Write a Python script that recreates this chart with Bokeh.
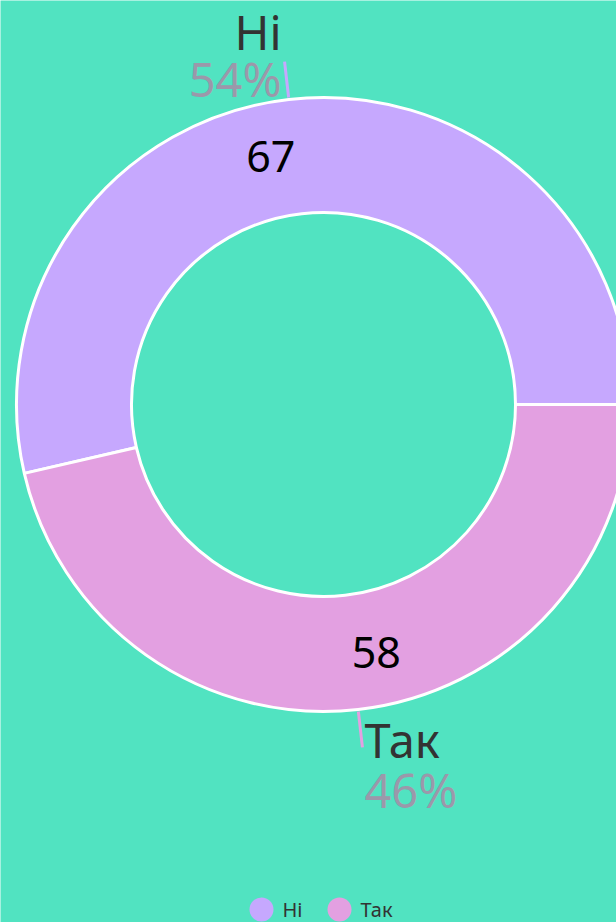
import math
from bokeh.plotting import figure
from bokeh.models import Range1d, ColumnDataSource
from bokeh.core.properties import value
from bokeh.embed import file_html
from bokeh.resources import INLINE

categories = ["Ні", "Так"]
counts = [67, 58]
colors = ["#c6a8fe", "#e3a0e1"]

BG = "#51e3c1"
W, H = 616, 922
CX, CY = 323, H - 404
R_OUT, R_IN = 307, 192
FONT = "Noto Sans"

total = sum(counts)
starts, ends, mids = [], [], []
acc = 0.0
for c in counts:
    a0 = 2 * math.pi * acc / total
    acc += c
    a1 = 2 * math.pi * acc / total
    starts.append(a0)
    ends.append(a1)
    mids.append((a0 + a1) / 2)

p = figure(width=W, height=H, output_backend="svg", toolbar_location=None,
           x_range=Range1d(0, W), y_range=Range1d(0, H), min_border=0,
           background_fill_color=BG, border_fill_color=BG)
p.axis.visible = False
p.grid.visible = False
p.outline_line_color = None

src = ColumnDataSource(dict(start=starts, end=ends, color=colors))
p.annular_wedge(x=CX, y=CY, inner_radius=R_IN, outer_radius=R_OUT,
                start_angle="start", end_angle="end", fill_color="color",
                line_color="white", line_width=3, source=src)

# value labels inside ring
r_mid = (R_IN + R_OUT) / 2
for cnt, m in zip(counts, mids):
    x = CX + r_mid * math.cos(m)
    y = CY + r_mid * math.sin(m)
    align = "right" if math.cos(m) < 0 else "left"
    p.text(x=[x], y=[y], text=[str(cnt)], text_align=align, text_baseline="middle",
           text_font=value(FONT), text_font_size="43px", text_color="#000000")

# outer labels with leader lines
for cat, cnt, col, m in zip(categories, counts, colors, mids):
    x0 = CX + (R_OUT + 2) * math.cos(m)
    y0 = CY + (R_OUT + 2) * math.sin(m)
    x1 = CX + (R_OUT + 38) * math.cos(m)
    y1 = CY + (R_OUT + 38) * math.sin(m)
    p.line(x=[x0, x1], y=[y0, y1], line_color=col, line_width=3)
    pct = f"{round(100 * cnt / total)}%"
    if math.cos(m) < 0:
        align, tx = "right", x1 - 3
    else:
        align, tx = "left", x1 + 2
    up = math.sin(m) > 0
    if up:
        ly, py = y1 + 30, y1 - 17
    else:
        ly, py = y1 + 7, y1 - 43
    p.text(x=[tx], y=[ly], text=[cat], text_align=align, text_baseline="middle",
           text_font=value(FONT), text_font_size="47px", text_color="#333333")
    p.text(x=[tx], y=[py], text=[pct], text_align=align, text_baseline="middle",
           text_font=value(FONT), text_font_size="47px", text_color="#9b98aa")

# legend
lx = [261, 339]
LY = H - 909
for cat, col, x in zip(categories, colors, lx):
    p.scatter(x=[x], y=[LY], size=24, fill_color=col, line_color=None)
    p.text(x=[x + 21], y=[LY], text=[cat], text_align="left", text_baseline="middle",
           text_font=value(FONT), text_font_size="20px", text_color="#333333")

html = file_html(p, INLINE)
html = html.replace("<body>", f'<body style="margin:0;background:{BG};overflow:hidden">', 1)
open("out.html", "w").write(html)
